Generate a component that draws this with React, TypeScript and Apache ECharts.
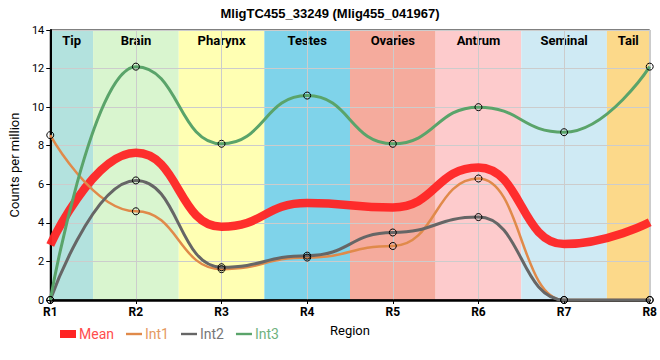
import React, { useEffect, useRef } from "react";
import * as echarts from "echarts";

const regions = ["R1", "R2", "R3", "R4", "R5", "R6", "R7", "R8"];
const meanVals = [2.85, 7.63, 3.8, 5.03, 4.8, 6.87, 2.9, 4.03];
const int1Vals = [8.55, 4.6, 1.6, 2.2, 2.8, 6.3, 0, 0];
const int2Vals = [0, 6.2, 1.7, 2.3, 3.5, 4.3, 0, 0];
const int3Vals = [0, 12.1, 8.1, 10.6, 8.1, 10.0, 8.7, 12.1];
const bandNames = ["Tip", "Brain", "Pharynx", "Testes", "Ovaries", "Antrum", "Seminal", "Tail"];
const bandStarts = [1, 1.5, 2.5, 3.5, 4.5, 5.5, 6.5, 7.5];
const bandEnds = [1.5, 2.5, 3.5, 4.5, 5.5, 6.5, 7.5, 8];
const bandColors = ["#b3e2de", "#d9f5cf", "#ffffb3", "#7fd3ea", "#f5ab9d", "#fdcbcc", "#cfeaf4", "#fcd98a"];

const COLORS = { mean: "#ff2424", int1: "#e08a4a", int2: "#666666", int3: "#5aa46a" };

const toPts = (vals: number[]) => vals.map((v, i) => [i + 1, v]);

export default function App() {
  const ref = useRef<HTMLDivElement>(null);
  useEffect(() => {
    const chart = echarts.init(ref.current!, null, { renderer: "svg" });
    const marker = {
      symbol: "circle",
      symbolSize: 7,
      showSymbol: true,
      itemStyle: { color: "rgba(0,0,0,0)", borderColor: "#000", borderWidth: 1 },
    };
    const lineIcon = "path://M0,0 L20,0 L20,3 L0,3 Z";
    const font = "Roboto, sans-serif";
    chart.setOption({
      animation: false,
      title: {
        text: "MligTC455_33249 (Mlig455_041967)",
        left: "center",
        top: 2,
        textStyle: { fontSize: 13, fontWeight: "bold", color: "#000", fontFamily: "Liberation Sans, Arial, sans-serif" },
      },
      grid: { left: 50, right: 10, top: 30, bottom: 60, show: true, borderColor: "#000", borderWidth: 1, backgroundColor: "transparent" },
      legend: {
        left: 55,
        top: 322,
        itemGap: 12,
        itemWidth: 16,
        itemHeight: 8,
        textStyle: { fontSize: 14, fontFamily: font, padding: [0, 0, 0, -2] },
        data: [
          { name: "Mean", icon: "rect", itemStyle: { color: COLORS.mean, borderWidth: 0 }, textStyle: { color: "#ff4d4d" } },
          { name: "Int1", icon: lineIcon, itemStyle: { color: COLORS.int1, borderWidth: 0 }, textStyle: { color: "#e59a60" } },
          { name: "Int2", icon: lineIcon, itemStyle: { color: COLORS.int2, borderWidth: 0 }, textStyle: { color: "#777777" } },
          { name: "Int3", icon: lineIcon, itemStyle: { color: COLORS.int3, borderWidth: 0 }, textStyle: { color: "#6fb27e" } },
        ],
      },
      xAxis: {
        type: "value",
        min: 1,
        max: 8,
        interval: 1,
        name: "Region",
        nameLocation: "middle",
        nameGap: 24,
        nameTextStyle: { color: "#000", fontSize: 13, fontFamily: font },
        axisLine: { show: true, lineStyle: { color: "#000", width: 2.5 } },
        axisTick: { show: true, length: 4, lineStyle: { color: "#000" } },
        axisLabel: {
          formatter: (v: number) => regions[Math.round(v) - 1] ?? "",
          color: "#000",
          fontWeight: "bold",
          fontSize: 12,
          margin: 6,
          fontFamily: font,
        },
        splitLine: { show: true, lineStyle: { color: "#cccccc", width: 1 } },
      },
      yAxis: {
        type: "value",
        min: 0,
        max: 14,
        interval: 2,
        name: "Counts per million",
        nameLocation: "middle",
        nameGap: 25,
        nameTextStyle: { color: "#000", fontSize: 13, fontFamily: font },
        axisLine: { show: true, lineStyle: { color: "#000", width: 2 } },
        axisTick: { show: true, length: 4, lineStyle: { color: "#000" } },
        axisLabel: { color: "#000", fontSize: 11, margin: 6, fontFamily: font },
        splitLine: { show: true, lineStyle: { color: "#cccccc", width: 1 } },
      },
      series: [
        {
          name: "Mean",
          type: "line",
          data: toPts(meanVals),
          smooth: true,
          smoothMonotone: "x",
          showSymbol: false,
          symbol: "none",
          lineStyle: { color: COLORS.mean, width: 8.5, opacity: 0.95 },
          itemStyle: { color: COLORS.mean },
          z: 3,
          markArea: {
            silent: true,
            z: -1,
            label: { show: true, position: "insideTop", color: "#000", fontWeight: "bold", fontSize: 13, distance: 4, fontFamily: font },
            data: bandNames.map((n, i) => [
              { name: n, xAxis: bandStarts[i], itemStyle: { color: bandColors[i], opacity: 1 } },
              { xAxis: bandEnds[i] },
            ]),
          },
        },
        {
          name: "Int1",
          type: "line",
          data: toPts(int1Vals),
          smooth: true,
          smoothMonotone: "x",
          ...marker,
          lineStyle: { color: COLORS.int1, width: 2.5 },
          z: 4,
        },
        {
          name: "Int2",
          type: "line",
          data: toPts(int2Vals),
          smooth: true,
          smoothMonotone: "x",
          ...marker,
          lineStyle: { color: COLORS.int2, width: 3 },
          z: 4,
        },
        {
          name: "Int3",
          type: "line",
          data: toPts(int3Vals),
          smooth: true,
          smoothMonotone: "x",
          ...marker,
          lineStyle: { color: COLORS.int3, width: 3 },
          z: 4,
        },
      ],
    });
    return () => chart.dispose();
  }, []);
  return <div ref={ref} style={{ position: "absolute", left: 0, top: 0, width: 660, height: 360 }} />;
}
